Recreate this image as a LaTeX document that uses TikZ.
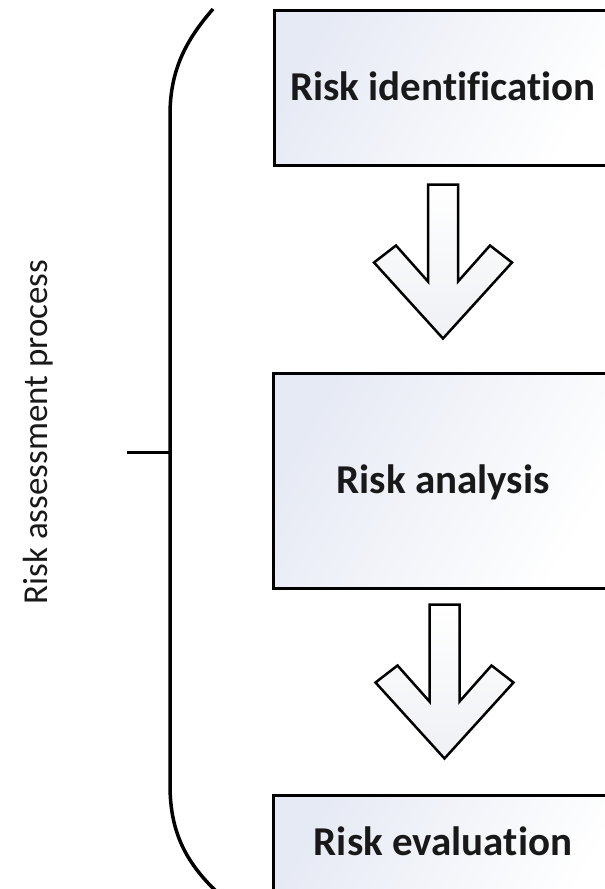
\documentclass[tikz,border=0pt]{standalone}
\usepackage{fontspec}
\setmainfont{Carlito}[Ligatures=NoCommon]
\usetikzlibrary{calc}
\definecolor{boxtint}{HTML}{E6EAF4}
\definecolor{arrowtint}{HTML}{EEF0F4}
\tikzset{
  procbox/.style={draw=black, line width=3pt, rectangle, inner sep=0pt,
    minimum width=338pt, left color=boxtint, right color=white, shading angle=60},
  boxlabel/.style={anchor=base, font=\fontsize{41}{48}\selectfont\bfseries, text=black!90},
  sidelabel/.style={anchor=base, rotate=90, font=\fontsize{35}{42}\selectfont, text=black!90},
  blockarrow/.style={draw=black, line width=2.5pt, line join=miter, top color=white, bottom color=arrowtint},
  bracket/.style={draw=black, line width=3.5pt}
}
\begin{document}
\begin{tikzpicture}[x=1pt, y=-1pt]
\useasboundingbox (0,0) rectangle (605,889);
\clip (0,0) rectangle (605,889);
% boxes
\node[procbox, minimum height=155pt] (b1) at (443,87.5) {};
\node[procbox, minimum height=215pt] (b2) at (442.5,480.5) {};
\node[procbox, minimum height=130pt] (b3) at (442.5,860) {};
% labels
\node[boxlabel] (t1) at (443,100) {Risk identification};
\node[boxlabel] (t2) at (443,493) {Risk analysis};
\node[boxlabel] (t3) at (443,855) {Risk evaluation};
% block arrows
\coordinate (a1) at ($(b1.south)+(0,18)$);
\coordinate (a2) at ($(b2.south)+(2,15)$);
\foreach \a in {a1,a2}{
  \draw[blockarrow] (\a) ++(-15,0) -- ++(30,0) -- ++(0,97)
    -- ++(32,-36) -- ++(22,17) -- ++(-69,76) -- ++(-69,-76) -- ++(22,-17)
    -- ++(32,36) -- cycle;
}
% bracket
\coordinate (bt) at (213,9);
\coordinate (bb) at (220,895);
\draw[bracket] (bt) .. controls (186,40) and (170,70) .. (170,115)
  -- (170,785) .. controls (170,835) and (188,865) .. (bb);
\coordinate (tk) at (127,452);
\draw[bracket, line width=3pt] (tk) -- (170,452);
% side label
\node[sidelabel] (side) at (47,432) {Risk assessment process};
\end{tikzpicture}
\end{document}
